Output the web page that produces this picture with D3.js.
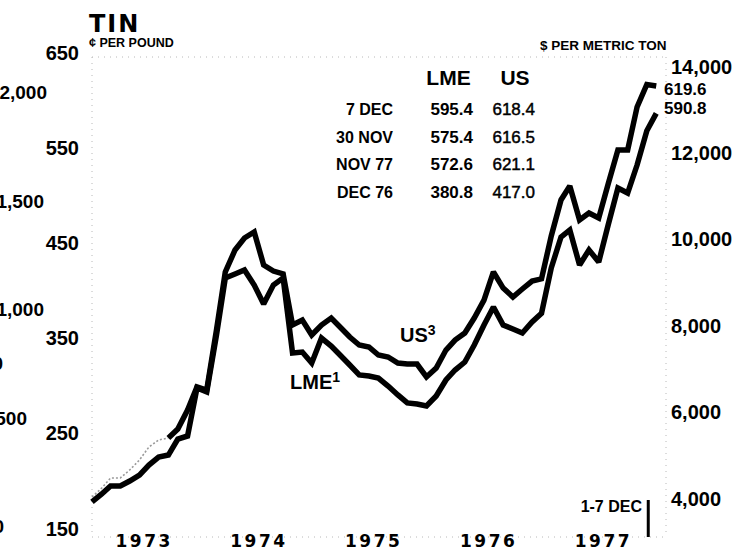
<!DOCTYPE html>
<html>
<head>
<meta charset="utf-8">
<script src="https://cdn.jsdelivr.net/npm/d3@7"></script>
<style>
  html, body { margin: 0; padding: 0; background: #fff; }
  svg { display: block; }
  text { font-family: "Liberation Sans", Arial, Helvetica, sans-serif; fill: #000; }
</style>
</head>
<body>
<svg id="chart" width="736" height="550"></svg>
<script>
// Tin prices, monthly averages Jan 1973 – Nov 1977 plus the week of 1-7 Dec 1977 (cents per pound)
const lmePrice = [
  182.6, 191.0, 199.4, 199.4, 204.6, 210.9, 221.4, 229.8, 231.9, 248.7, 251.9, 302.3,
  298.1, 358.0, 417.9, 422.1, 426.3, 410.5, 390.5, 410.5, 417.9, 339.1, 340.1, 328.6,
  354.8, 346.4, 337.0, 326.5, 316.0, 314.9, 312.8, 304.4, 295.0, 286.6, 285.5, 283.4,
  293.9, 310.7, 321.2, 329.6, 347.5, 368.5, 387.4, 368.5, 364.3, 360.1, 371.6, 380.8,
  428.4, 460.9, 468.3, 431.5, 447.3, 434.7, 473.5, 512.4, 507.1, 536.5, 572.6, 590.8
];
const usPrice = [
  187.8, 197.3, 207.8, 207.8, 216.2, 226.7, 240.3, 247.7, 249.8, 259.2, 279.2, 303.4,
  300.2, 363.2, 424.2, 447.3, 459.9, 466.2, 431.5, 425.2, 422.1, 368.5, 373.7, 358.0,
  368.5, 375.8, 366.4, 355.9, 347.5, 345.4, 337.0, 334.9, 328.6, 327.5, 327.5, 313.9,
  323.3, 342.2, 352.7, 360.1, 375.8, 394.7, 424.2, 407.3, 397.9, 406.3, 414.7, 417.0,
  462.0, 499.8, 514.5, 478.8, 486.1, 480.9, 516.6, 552.3, 552.3, 597.5, 621.1, 619.6
];
// Months Jan 1973 .. Nov 1977, then the 1-7 Dec week
const periods = d3.timeMonth.range(new Date(1973, 0, 1), new Date(1977, 11, 1))
  .concat([new Date(1977, 11, 1)]);
const years = [1973, 1974, 1975, 1976, 1977];

const centTicks = [150, 250, 350, 450, 550, 650];
const dollarTicks = [4000, 6000, 8000, 10000, 12000, 14000];
const sideTicks = [2000, 1500, 1000, 750, 500, 0];

const tableDates = ["7 DEC", "30 NOV", "NOV 77", "DEC 76"];
const tableLME = ["595.4", "575.4", "572.6", "380.8"];
const tableUS = ["618.4", "616.5", "621.1", "417.0"];

const LB_PER_TONNE = 2204.62 / 100; // cents/lb -> $/metric ton

const svg = d3.select("#chart");

const x = d3.scaleTime()
  .domain([new Date(1973, 0, 1), new Date(1978, 0, 1)])
  .range([92, 666]);
const y = d3.scaleLinear().domain([150, 650]).range([533, 57]);
const yDollar = d3.scaleLinear()
  .domain([150 * LB_PER_TONNE, 650 * LB_PER_TONNE])
  .range([533, 57]);
const ySide = d3.scaleLinear().domain([0, 2000]).range([533, 99]);

// faint dotted frame
const frame = svg.append("g")
  .attr("fill", "none")
  .attr("stroke", "#b8b8b8")
  .attr("stroke-width", 1)
  .attr("stroke-dasharray", "1,5");
frame.append("line").attr("x1", x.range()[0]).attr("x2", x.range()[1]).attr("y1", y(650)).attr("y2", y(650));
frame.append("line").attr("x1", x.range()[0]).attr("x2", x.range()[1]).attr("y1", y(150) + 4).attr("y2", y(150) + 4);
frame.append("line").attr("x1", x.range()[1]).attr("x2", x.range()[1]).attr("y1", y(650)).attr("y2", y(150) + 4);
frame.append("line").attr("x1", x.range()[0]).attr("x2", x.range()[0]).attr("y1", y(650)).attr("y2", y(150));

// Title and unit captions
svg.append("text").attr("x", 89).attr("y", 32)
  .style("font-family", "'DejaVu Sans', sans-serif")
  .style("font-weight", "bold").style("font-size", "24px")
  .style("letter-spacing", "2px").text("TIN");
svg.append("text").attr("x", 89).attr("y", 47)
  .style("font-weight", "bold").style("font-size", "12.5px").text("¢ PER POUND");
svg.append("text").attr("x", 540).attr("y", 50)
  .style("font-weight", "bold").style("font-size", "13.5px").text("$ PER METRIC TON");

// Left axis (cents per pound)
const leftAxis = svg.append("g")
  .attr("transform", "translate(79,0)")
  .call(d3.axisLeft(y).tickValues(centTicks).tickSize(0).tickPadding(0).tickFormat(d3.format("d")));
leftAxis.select(".domain").remove();
leftAxis.selectAll("text")
  .attr("dy", "2px").attr("dominant-baseline", "auto")
  .style("font-family", "'Liberation Sans', Arial, sans-serif")
  .style("font-weight", "bold").style("font-size", "20px").attr("fill", "#000");

// Right axis ($ per metric ton)
const rightAxis = svg.append("g")
  .attr("transform", "translate(671,0)")
  .call(d3.axisRight(yDollar).tickValues(dollarTicks).tickSize(0).tickPadding(0).tickFormat(d3.format(",")));
rightAxis.select(".domain").remove();
rightAxis.selectAll("text")
  .attr("dy", "2px").attr("dominant-baseline", "auto")
  .style("font-family", "'Liberation Sans', Arial, sans-serif")
  .style("font-weight", "bold").style("font-size", "20px").attr("fill", "#000");

// Scale labels of the adjoining panel at the left edge
const sideRight = { 2000: 47, 1500: 44, 1000: 44, 750: 3, 500: 27, 0: 4 };
svg.append("g").selectAll("text").data(sideTicks).join("text")
  .attr("x", d => sideRight[d])
  .attr("y", d => ySide(d))
  .attr("text-anchor", "end")
  .style("font-weight", "bold").style("font-size", "19px")
  .text(d => d3.format(",")(d));

// Year labels
svg.append("g").selectAll("text").data(years).join("text")
  .attr("x", d => x(new Date(d, 5, 16)))
  .attr("y", 547)
  .attr("text-anchor", "middle")
  .style("font-family", "'DejaVu Sans', sans-serif")
  .style("font-weight", "bold").style("font-size", "17px")
  .style("letter-spacing", "2.5px")
  .text(d => d);

// Price lines
const line = d3.line()
  .x((d, i) => x(periods[i]))
  .y(d => y(d));
const lineFrom = (vals, start) => d3.line()
  .x((d, i) => x(periods[i + start]))
  .y(d => y(d))(vals.slice(start));

const faintEnd = 8;
svg.append("path")
  .attr("d", line(usPrice.slice(0, faintEnd + 1)))
  .attr("fill", "none").attr("stroke", "#9a9a9a")
  .attr("stroke-width", 1.6).attr("stroke-dasharray", "2,2");
svg.append("path")
  .attr("d", lineFrom(usPrice, faintEnd))
  .attr("fill", "none").attr("stroke", "#000")
  .attr("stroke-width", 5.5).attr("stroke-linejoin", "miter").attr("stroke-miterlimit", 2);
svg.append("path")
  .attr("d", line(lmePrice))
  .attr("fill", "none").attr("stroke", "#000")
  .attr("stroke-width", 5.5).attr("stroke-linejoin", "miter").attr("stroke-miterlimit", 2);

// End values
const last = periods.length - 1;
svg.append("text").attr("x", 664).attr("y", y(usPrice[last]) + 9)
  .style("font-weight", "bold").style("font-size", "17px").text(d3.format(".1f")(usPrice[last]));
svg.append("text").attr("x", 664).attr("y", y(lmePrice[last]) + 1)
  .style("font-weight", "bold").style("font-size", "17px").text(d3.format(".1f")(lmePrice[last]));

// Series labels
const usLab = svg.append("text").attr("x", 400).attr("y", 342)
  .style("font-weight", "bold").style("font-size", "20px");
usLab.append("tspan").text("US");
usLab.append("tspan").attr("dy", "-7").style("font-size", "14px").text("3");
const lmeLab = svg.append("text").attr("x", 290).attr("y", 389)
  .style("font-weight", "bold").style("font-size", "20px");
lmeLab.append("tspan").text("LME");
lmeLab.append("tspan").attr("dy", "-7").style("font-size", "14px").text("1");

// Table of latest quotations
svg.append("text").attr("x", 448.5).attr("y", 85).attr("text-anchor", "middle")
  .style("font-weight", "bold").style("font-size", "21px").text("LME");
svg.append("text").attr("x", 515).attr("y", 85).attr("text-anchor", "middle")
  .style("font-weight", "bold").style("font-size", "21px").text("US");
const rowY = d3.scalePoint().domain(d3.range(tableDates.length)).range([115, 198]);
svg.append("g").selectAll("text").data(tableDates).join("text")
  .attr("x", 393).attr("y", (d, i) => rowY(i)).attr("text-anchor", "end")
  .style("font-weight", "bold").style("font-size", "16px").text(d => d);
svg.append("g").selectAll("text").data(tableLME).join("text")
  .attr("x", 473).attr("y", (d, i) => rowY(i)).attr("text-anchor", "end")
  .style("font-weight", "bold").style("font-size", "17px").text(d => d);
svg.append("g").selectAll("text").data(tableUS).join("text")
  .attr("x", 535).attr("y", (d, i) => rowY(i)).attr("text-anchor", "end")
  .style("font-size", "17px").attr("stroke", "#000").attr("stroke-width", 0.45).text(d => d);

// Latest-week marker
const markX = x(periods[last]) - 8;
svg.append("line")
  .attr("x1", markX).attr("x2", markX)
  .attr("y1", 500).attr("y2", y(150) + 4)
  .attr("stroke", "#000").attr("stroke-width", 3);
svg.append("text").attr("x", 642).attr("y", 512).attr("text-anchor", "end")
  .style("font-weight", "bold").style("font-size", "16px").text("1-7 DEC");
</script>
</body>
</html>
